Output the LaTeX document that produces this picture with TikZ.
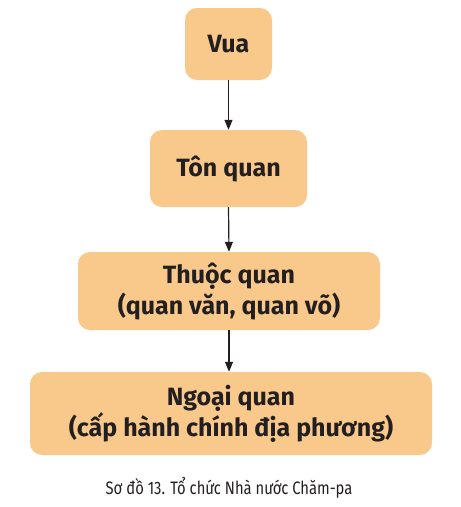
\documentclass[tikz,border=0pt]{standalone}
\usepackage{fontspec}
\setmainfont{Fira Sans}
\usetikzlibrary{arrows.meta}
\definecolor{boxfill}{HTML}{F9C98C}
\definecolor{ink}{HTML}{231F20}
\tikzset{
  orgbox/.style={fill=boxfill, rounded corners=12pt, draw=none, text=ink,
    font=\fontsize{25}{31}\selectfont\bfseries, align=center, inner sep=0pt},
  link/.style={draw=ink, line width=1.2pt, -{Triangle[length=10pt,width=8pt]}}
}
\begin{document}
\begin{tikzpicture}[x=1pt,y=-1pt]
\useasboundingbox (0,0) rectangle (461,507);
\node[orgbox, minimum width=87pt, minimum height=72pt] (vua) at (228.5,44) {Vua};
\node[orgbox, minimum width=157pt, minimum height=77pt] (ton) at (228.5,168.5) {Tôn quan};
\node[orgbox, minimum width=302pt, minimum height=78pt] (thuoc) at (229,291) {Thuộc quan\\(quan văn, quan võ)};
\node[orgbox, minimum width=402pt, minimum height=83pt] (ngoai) at (231,413.5) {Ngoại quan\\(cấp hành chính địa phương)};
\node[text=ink, font=\fontsize{18}{20}\selectfont\addfontfeature{FakeStretch=0.82}, inner sep=0pt] (cap) at (229,488) {Sơ đồ 13. Tổ chức Nhà nước Chăm-pa};
\draw[link] (vua.south) -- (ton.north);
\draw[link] (ton.south) -- (thuoc.north);
\draw[link] (thuoc.south) -- (thuoc.south |- ngoai.north);
\end{tikzpicture}
\end{document}
